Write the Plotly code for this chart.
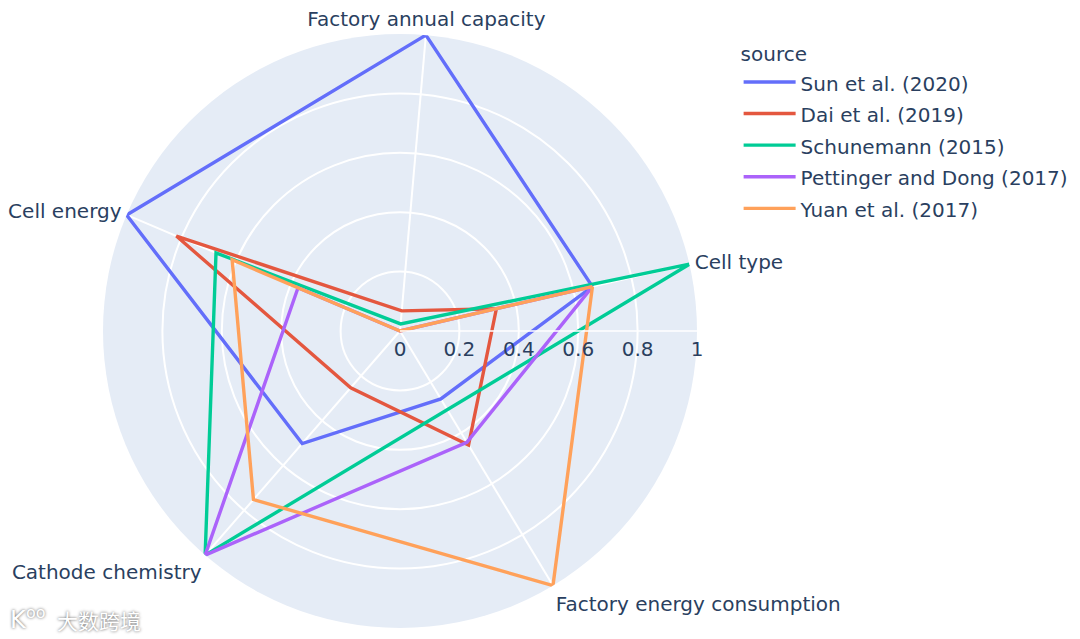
import plotly.graph_objects as go

categories = ["Cell type", "Factory annual capacity", "Cell energy", "Cathode chemistry", "Factory energy consumption"]
sources = ["Sun et al. (2020)", "Dai et al. (2019)", "Schunemann (2015)", "Pettinger and Dong (2017)", "Yuan et al. (2017)"]
sun = [0.665, 1, 1, 0.502, 0.267]
dai = [0.333, 0.068, 0.818, 0.253, 0.448]
schunemann = [1, 0.024, 0.673, 1, None]
pettinger = [0.665, 0, 0.373, 1, 0.437]
yuan = [0.665, 0, 0.614, 0.752, 1]
series = [sun, dai, schunemann, pettinger, yuan]
colors = ["#636efa", "#E4573F", "#00cc96", "#ab63fa", "#FFA15A"]
tick_vals = [0, 0.2, 0.4, 0.6, 0.8, 1]
tick_text = ["0", "0.2", "0.4", "0.6", "0.8", "1"]

FS = 20
fig = go.Figure()
for name, vals, c in zip(sources, series, colors):
    fig.add_trace(go.Scatterpolar(
        r=vals + vals[:1], theta=categories + categories[:1], mode="lines", connectgaps=True,
        name=f'<span style="font-size:{FS}px">{name}</span>',
        line=dict(color=c, width=3.4), legendgroup=name))

SH = "0px 0px 3px #555555"
fig.update_layout(
    width=1080, height=639, autosize=False,
    margin=dict(l=0, r=0, t=0, b=0),
    paper_bgcolor="white",
    font=dict(family="DejaVu Sans", size=FS, color="#2a3f5f"),
    polar=dict(
        domain=dict(x=[95/1080, 689/1080], y=[1-620/639, 1-26/639]),
        bgcolor="#E5ECF6",
        angularaxis=dict(type="category", categoryorder="array", categoryarray=categories,
                         rotation=13, direction="counterclockwise",
                         gridcolor="white", linecolor="white", ticks="outside", ticklen=1,
                         tickcolor="rgba(0,0,0,0)", showline=False,
                         gridwidth=1.6, tickfont=dict(size=FS)),
        radialaxis=dict(range=[0, 1], angle=0, tickangle=0, tickvals=tick_vals, ticktext=tick_text,
                        gridcolor="white", linecolor="white", ticks="", showline=True,
                        gridwidth=1.6, linewidth=1.6, tickfont=dict(size=FS)),
    ),
    legend=dict(title=dict(text="source", font=dict(size=FS)), x=0.6765, y=0.9575, xanchor="left", yanchor="top",
                font=dict(size=22), itemwidth=52, tracegroupgap=0, bgcolor="rgba(0,0,0,0)"),
    annotations=[
        dict(text="大数跨境", x=47/1080, y=1-612/639, xref="paper", yref="paper", xanchor="left", yanchor="middle",
             showarrow=False, font=dict(family="Noto Sans CJK SC", size=21, color="white", shadow=SH)),
        dict(text="K", x=0/1080, y=1-612/639, xref="paper", yref="paper", xanchor="left", yanchor="middle",
             showarrow=False, font=dict(size=24, color="white", shadow=SH)),
        dict(text="oo", x=16/1080, y=1-604/639, xref="paper", yref="paper", xanchor="left", yanchor="middle",
             showarrow=False, font=dict(size=16, color="white", shadow=SH)),
    ],
)
fig.write_html("out.html")
